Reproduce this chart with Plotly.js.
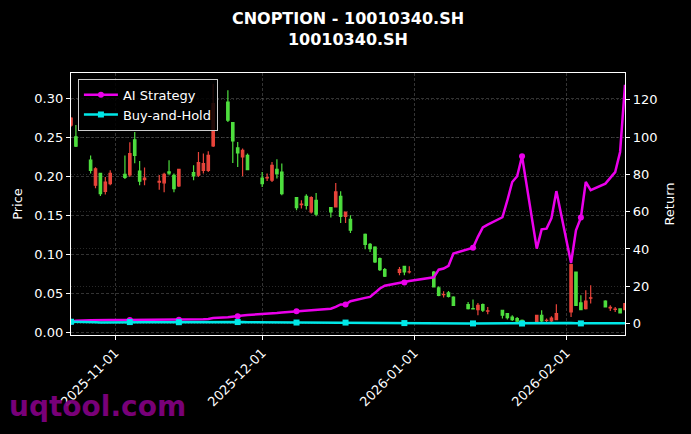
<!DOCTYPE html>
<html>
<head>
<meta charset="utf-8">
<script src="https://cdn.plot.ly/plotly-3.0.1.min.js"></script>
<style>html,body{margin:0;padding:0;background:#000;}#chart{width:691px;height:434px;}</style>
</head>
<body>
<div id="chart"></div>
<script>
const dates = ['2025-10-23','2025-10-24','2025-10-27','2025-10-28','2025-10-29','2025-10-30','2025-10-31',
'2025-11-03','2025-11-04','2025-11-05','2025-11-06','2025-11-07','2025-11-10','2025-11-11','2025-11-12','2025-11-13','2025-11-14',
'2025-11-17','2025-11-18','2025-11-19','2025-11-20','2025-11-21','2025-11-24','2025-11-25','2025-11-26','2025-11-27','2025-11-28',
'2025-12-01','2025-12-02','2025-12-03','2025-12-04','2025-12-05','2025-12-08','2025-12-09','2025-12-10','2025-12-11','2025-12-12',
'2025-12-15','2025-12-16','2025-12-17','2025-12-18','2025-12-19','2025-12-22','2025-12-23','2025-12-24','2025-12-25','2025-12-26',
'2025-12-29','2025-12-30','2025-12-31','2026-01-05','2026-01-06','2026-01-07','2026-01-08','2026-01-09',
'2026-01-12','2026-01-13','2026-01-14','2026-01-15','2026-01-16','2026-01-19','2026-01-20','2026-01-21','2026-01-22','2026-01-23',
'2026-01-26','2026-01-27','2026-01-28','2026-01-29','2026-01-30','2026-02-02','2026-02-03','2026-02-04','2026-02-05','2026-02-06',
'2026-02-09','2026-02-10','2026-02-11','2026-02-12','2026-02-13'];

const openP = [0.266,0.251,0.221,0.189,0.204,0.181,0.191,
0.203,0.202,0.247,0.207,0.196,0.193,0.192,0.206,0.2017,0.188,
0.2051,0.2017,0.208,0.208,0.2392,0.2956,0.2692,0.2367,0.2251,0.2273,
0.1982,0.1982,0.1953,0.2094,0.2059,0.1731,0.164,0.1747,0.1546,0.1696,
0.1603,0.161,0.1747,0.1491,0.1453,0.126,0.1132,0.1097,0.0949,0.0808,
0.0773,0.085,0.0777,0.0777,0.0572,0.0485,0.0508,0.0456,
0.0359,0.0308,0.0295,0.0359,0.0276,0.0286,0.0244,0.020,0.018,0.0158,
0.0136,0.0222,0.0156,0.0149,0.0167,0.0264,0.0777,0.038,0.0308,0.0442,
0.0405,0.0318,0.0297,0.0303,0.0295];

const highP = [0.276,0.266,0.227,0.212,0.205,0.1995,0.208,
0.227,0.244,0.257,0.220,0.2115,0.202,0.205,0.221,0.204,0.210,
0.2145,0.2315,0.2295,0.2324,0.319,0.3106,0.270,0.2444,0.2359,0.2295,
0.2059,0.2038,0.2187,0.2222,0.2167,0.1738,0.1696,0.1773,0.1747,0.179,
0.1603,0.1918,0.1812,0.1546,0.1504,0.1269,0.1149,0.1106,0.0962,0.0828,
0.0841,0.085,0.085,0.079,0.0594,0.053,0.0533,0.0465,
0.0392,0.0423,0.038,0.0372,0.0328,0.0286,0.0251,0.0222,0.020,0.0167,
0.0222,0.0286,0.018,0.0209,0.0363,0.0875,0.078,0.0478,0.0542,0.0606,
0.0414,0.035,0.0328,0.0308,0.0372];

const lowP = [0.264,0.238,0.204,0.185,0.175,0.177,0.189,
0.197,0.1995,0.217,0.189,0.189,0.183,0.180,0.2017,0.180,0.1867,
0.1953,0.1995,0.204,0.2059,0.238,0.270,0.2174,0.2123,0.2004,0.208,
0.1867,0.1944,0.1931,0.1974,0.176,0.1568,0.159,0.1577,0.1526,0.1491,
0.1474,0.161,0.1405,0.1405,0.1277,0.1068,0.1033,0.0892,0.079,0.0713,
0.0735,0.0735,0.0757,0.058,0.0465,0.0449,0.0449,0.0341,
0.0295,0.0295,0.0222,0.0264,0.0235,0.018,0.0167,0.0149,0.0136,0.0115,
0.0136,0.0136,0.0136,0.0136,0.0158,0.020,0.034,0.0286,0.0295,0.0372,
0.032,0.0277,0.0264,0.0244,0.0286];

const closeP = [0.275,0.239,0.208,0.210,0.178,0.193,0.204,
0.199,0.2295,0.227,0.194,0.198,0.194,0.203,0.2045,0.1846,0.2094,
0.2008,0.218,0.2167,0.2273,0.2936,0.2722,0.2456,0.2303,0.2337,0.209,
0.191,0.1987,0.2145,0.2038,0.1782,0.1603,0.1648,0.1632,0.1731,0.1517,
0.1546,0.1803,0.1491,0.1546,0.1312,0.1132,0.1077,0.0905,0.0808,0.0722,
0.0808,0.0777,0.078,0.0585,0.0478,0.0487,0.0465,0.035,
0.0308,0.0305,0.035,0.0286,0.0278,0.0222,0.0192,0.0167,0.0145,0.0125,
0.0222,0.0149,0.0158,0.0187,0.0244,0.0872,0.035,0.0295,0.0405,0.0445,
0.0328,0.0322,0.030,0.0251,0.0372];

const aiReturn = [1.0,1.6,1.8,1.9,1.8,1.9,2.0,
2.0,2.0,2.1,2.0,2.0,2.0,2.1,2.1,2.0,2.1,
2.1,2.2,2.3,2.5,3.0,3.4,3.6,3.9,4.3,4.6,
5.0,5.2,5.4,5.7,6.0,6.6,6.8,7.0,7.3,7.5,
8.0,9.0,10.3,10.2,12.0,13.8,14.3,16.5,18.8,20.3,
21.8,22.1,22.8,24.8,28.9,29.5,31.0,37.5,
40.0,40.7,46.5,51.5,53.0,57.0,66.0,75.9,79.0,89.7,
40.2,50.5,50.9,56.5,71.0,32.5,50.0,56.8,75.9,71.5,
75.0,78.0,81.2,92.0,128.0];

const bhReturn = [1.0,0.87,0.76,0.76,0.65,0.70,0.74,
0.72,0.83,0.83,0.71,0.72,0.71,0.74,0.74,0.67,0.76,
0.73,0.79,0.79,0.83,1.07,0.99,0.89,0.84,0.85,0.76,
0.69,0.72,0.78,0.74,0.65,0.58,0.60,0.59,0.63,0.55,
0.56,0.66,0.54,0.56,0.48,0.41,0.39,0.33,0.29,0.26,
0.29,0.28,0.28,0.21,0.17,0.18,0.17,0.13,
0.11,0.11,0.13,0.10,0.10,0.08,0.07,0.06,0.05,0.05,
0.08,0.05,0.06,0.07,0.09,0.32,0.13,0.11,0.15,0.16,
0.12,0.12,0.11,0.09,0.14];

const xTickVals = ['2025-11-01','2025-12-01','2026-01-01','2026-02-01'];
const xTickText = ['2025-11-01','2025-12-01','2026-01-01','2026-02-01'];
const markEvery = 8;

const RED = 'rgb(232,68,58)';
const GREEN = 'rgb(78,222,62)';
const MAG = 'rgb(235,0,235)';
const CYA = 'rgb(0,232,232)';

const mDates = dates.filter((d,i)=>i%markEvery===0);
const mAi = aiReturn.filter((d,i)=>i%markEvery===0);
const mBh = bhReturn.filter((d,i)=>i%markEvery===0);

const FONT = 'DejaVu Sans, sans-serif';

const traces = [
  {type:'candlestick', x:dates, open:openP, high:highP, low:lowP, close:closeP,
   increasing:{line:{color:RED,width:1.2}, fillcolor:RED},
   decreasing:{line:{color:GREEN,width:1.2}, fillcolor:GREEN},
   whiskerwidth:0, showlegend:false, hoverinfo:'skip', xaxis:'x', yaxis:'y'},
  {type:'scatter', mode:'lines', x:dates, y:aiReturn, yaxis:'y2', line:{color:MAG,width:2.5}, showlegend:false, hoverinfo:'skip'},
  {type:'scatter', mode:'markers', x:mDates, y:mAi, yaxis:'y2', marker:{color:MAG,size:6,symbol:'circle'}, showlegend:false, hoverinfo:'skip'},
  {type:'scatter', mode:'lines', x:dates, y:bhReturn, yaxis:'y2', line:{color:CYA,width:2.5}, showlegend:false, hoverinfo:'skip'},
  {type:'scatter', mode:'markers', x:mDates, y:mBh, yaxis:'y2', marker:{color:CYA,size:6,symbol:'square'}, showlegend:false, hoverinfo:'skip'},
  {type:'scatter', mode:'lines+markers', name:'AI Strategy', x:[null], y:[null], yaxis:'y2', line:{color:MAG,width:2.5}, marker:{color:MAG,size:6,symbol:'circle'}},
  {type:'scatter', mode:'lines+markers', name:'Buy-and-Hold', x:[null], y:[null], yaxis:'y2', line:{color:CYA,width:2.5}, marker:{color:CYA,size:6,symbol:'square'}}
];

const GRID = 'rgba(128,128,128,0.5)';

const layout = {
  width:691, height:434,
  paper_bgcolor:'#000', plot_bgcolor:'#000',
  margin:{l:71, r:66, t:73, b:99, pad:0},
  font:{family:FONT, color:'#fff', size:13},
  title:{text:'<b>CNOPTION - 10010340.SH</b><br><b>10010340.SH</b>', x:0.5036, xanchor:'center', xref:'container',
         y:0.945, yref:'container', yanchor:'top', font:{family:FONT, size:16, color:'#fff'}},
  showlegend:true,
  legend:{x:0.0125, y:0.978, xanchor:'left', yanchor:'top', bgcolor:'rgba(0,0,0,0.85)', bordercolor:'#cccccc', borderwidth:1,
          font:{family:FONT, size:13, color:'#fff'}, itemwidth:34},
  xaxis:{type:'date', range:['2025-10-23','2026-02-13'], tickmode:'array', tickvals:xTickVals, ticktext:xTickText,
         tickangle:-45, showgrid:true, gridcolor:GRID, griddash:'3px,2px', gridwidth:0.8,
         showline:true, linecolor:'#fff', linewidth:1.2, mirror:true, ticks:'outside', ticklen:4, tickcolor:'#fff',
         tickfont:{family:FONT, size:13, color:'#fff'}, zeroline:false, rangeslider:{visible:false}, fixedrange:true},
  yaxis:{range:[-0.0031,0.3328], tickmode:'linear', tick0:0, dtick:0.05, tickformat:'.2f',
         title:{text:'Price', font:{family:FONT, size:13, color:'#fff'}, standoff:8},
         showgrid:true, gridcolor:GRID, griddash:'3px,2px', gridwidth:0.8,
         showline:true, linecolor:'#fff', linewidth:1.2, mirror:true, ticks:'outside', ticklen:4, tickcolor:'#fff',
         tickfont:{family:FONT, size:13, color:'#fff'}, zeroline:false, fixedrange:true},
  yaxis2:{overlaying:'y', side:'right', range:[-6.1,134.3], tickmode:'linear', tick0:0, dtick:20,
         title:{text:'Return', font:{family:FONT, size:13, color:'#fff'}, standoff:8},
         showgrid:true, gridcolor:'rgba(128,128,128,0.4)', griddash:'1px,2px', gridwidth:0.8,
         showline:true, linecolor:'#fff', linewidth:1.2, ticks:'outside', ticklen:4, tickcolor:'#fff',
         tickfont:{family:FONT, size:13, color:'#fff'}, zeroline:false, fixedrange:true},
  annotations:[{text:'<b>uqtool.com</b>', xref:'paper', yref:'paper', x:-0.115, y:-0.272, xanchor:'left', yanchor:'middle',
                showarrow:false, font:{family:FONT, size:28, color:'rgba(128,0,128,0.95)'}}]
};

Plotly.newPlot('chart', traces, layout, {displayModeBar:false, staticPlot:true});
</script>
</body>
</html>
